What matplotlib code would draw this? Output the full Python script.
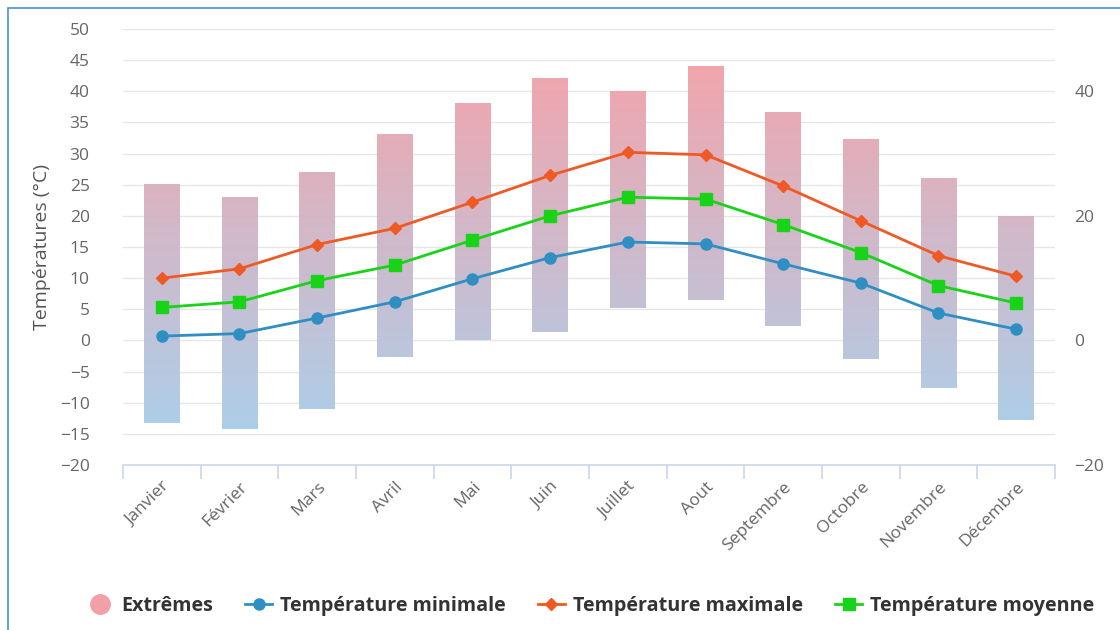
import numpy as np
import matplotlib.pyplot as plt
from matplotlib.colors import LinearSegmentedColormap
from matplotlib.lines import Line2D
from matplotlib.patches import Rectangle

plt.rcParams["font.family"] = ["Open Sans", "DejaVu Sans"]

months = ["Janvier", "Février", "Mars", "Avril", "Mai", "Juin", "Juillet",
          "Aout", "Septembre", "Octobre", "Novembre", "Décembre"]
ext_low = [-13.3, -14.2, -11.0, -2.7, 0.0, 1.3, 5.2, 6.5, 2.3, -3.0, -7.6, -12.7]
ext_high = [25.0, 23.0, 27.0, 33.0, 38.0, 42.0, 40.0, 44.0, 36.5, 32.3, 26.0, 20.0]
t_min = [0.7, 1.1, 3.6, 6.2, 9.9, 13.3, 15.8, 15.5, 12.3, 9.2, 4.4, 1.8]
t_max = [10.0, 11.5, 15.4, 18.0, 22.2, 26.5, 30.2, 29.8, 24.8, 19.2, 13.6, 10.3]
t_moy = [5.3, 6.2, 9.6, 12.1, 16.1, 20.0, 23.0, 22.7, 18.6, 14.1, 8.8, 6.0]

c_min = "#2f8fc3"
c_max = "#ef5a24"
c_moy = "#19d319"
cmap = LinearSegmentedColormap.from_list("ext", ["#a8cde9", "#f2a0a8"])

fig = plt.figure(figsize=(11.2, 6.3), dpi=100)
ax = fig.add_axes([123 / 1120, 1 - 465 / 630, (1055 - 123) / 1120, (465 - 29) / 630])

x = np.arange(len(months))
w = 0.46
for i in x:
    lo, hi = ext_low[i], ext_high[i]
    ys = np.linspace(hi, lo, 100).reshape(-1, 1)
    ax.imshow(ys, cmap=cmap, vmin=-15, vmax=45, alpha=0.95, aspect="auto",
              extent=(i - w / 2, i + w / 2, lo, hi), zorder=1, interpolation="bilinear")

ax.plot(x, t_min, color=c_min, lw=2, marker="o", ms=8, zorder=3)
ax.plot(x, t_max, color=c_max, lw=2, marker="D", ms=6, zorder=3)
ax.plot(x, t_moy, color=c_moy, lw=2, marker="s", ms=8, zorder=3)

ax.set_xlim(-0.5, 11.5)
ax.set_ylim(-20, 50)
ax.set_yticks(np.arange(-20, 51, 5))
ax.set_yticklabels([str(v).replace("-", "\u2212") for v in range(-20, 51, 5)])
ax.grid(axis="y", color="#e6e6e6", lw=1)
ax.set_axisbelow(True)
for s in ["top", "right", "left"]:
    ax.spines[s].set_visible(False)
ax.spines["bottom"].set_color("#ccd6eb")
ax.spines["bottom"].set_linewidth(1.2)
ax.tick_params(axis="y", length=0, labelsize=12.5, labelcolor="#666666", pad=24)
ax.set_xticks(x)
ax.set_xticklabels(months, rotation=45, ha="right", rotation_mode="anchor",
                   fontsize=12.5, color="#666666")
ax.tick_params(axis="x", length=0, pad=10)
ax.set_xticks(np.arange(-0.5, 12, 1), minor=True)
ax.tick_params(axis="x", which="minor", length=10, color="#ccd6eb", width=1.2)
ax.set_ylabel("Températures (°C)", fontsize=14, color="#555555", labelpad=6)

ax2 = ax.twinx()
ax2.set_ylim(-20, 50)
ax2.set_yticks([-20, 0, 20, 40])
ax2.set_yticklabels(["\u221220", "0", "20", "40"])
ax2.tick_params(axis="y", length=0, labelsize=12.5, labelcolor="#666666", pad=14)
for s in ax2.spines.values():
    s.set_visible(False)

handles = [
    Line2D([], [], ls="none", marker="o", ms=14, color="#f2a0a8"),
    Line2D([], [], color=c_min, lw=2, marker="o", ms=8),
    Line2D([], [], color=c_max, lw=2, marker="D", ms=6),
    Line2D([], [], color=c_moy, lw=2, marker="s", ms=8),
]
labels = ["Extrêmes", "Température minimale", "Température maximale", "Température moyenne"]
fig.legend(handles, labels, loc="center", bbox_to_anchor=(0.527, 1 - 606 / 630), ncol=4,
           frameon=False, prop={"weight": "bold", "size": 14.2}, labelcolor="#333333",
           handlelength=1.4, columnspacing=1.6, handletextpad=0.4)

fig.patches.append(Rectangle((8 / 1120, -0.1), 1.2, (1 - 8 / 630) + 0.1,
                             transform=fig.transFigure, fill=False,
                             edgecolor="#4a90e2", lw=1.2))

fig.savefig("out.png", dpi=100)
